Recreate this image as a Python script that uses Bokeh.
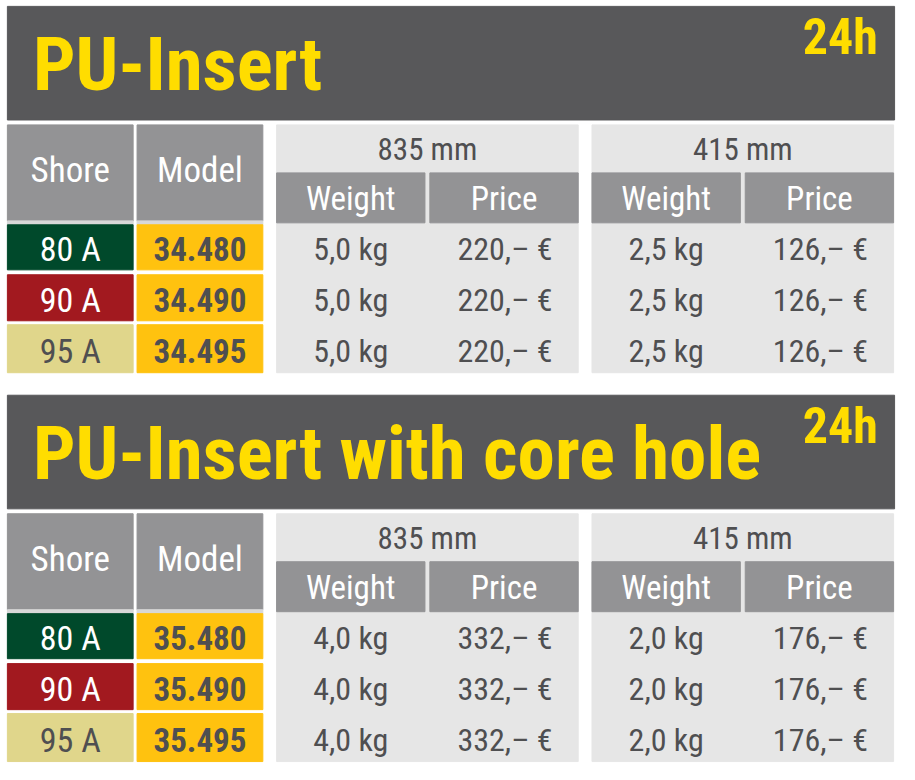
from bokeh.plotting import figure
from bokeh.models import ColumnDataSource
from bokeh.core.properties import value
from bokeh.embed import file_html
from bokeh.resources import INLINE

# table content
titles = ["PU-Insert", "PU-Insert with core hole"]
badge = "24h"
shore = ["80 A", "90 A", "95 A"]
models = [["34.480", "34.490", "34.495"],
          ["35.480", "35.490", "35.495"]]
lengths = ["835 mm", "415 mm"]
weights = [[["5,0 kg", "5,0 kg", "5,0 kg"], ["2,5 kg", "2,5 kg", "2,5 kg"]],
           [["4,0 kg", "4,0 kg", "4,0 kg"], ["2,0 kg", "2,0 kg", "2,0 kg"]]]
prices = [[["220,– €", "220,– €", "220,– €"], ["126,– €", "126,– €", "126,– €"]],
          [["332,– €", "332,– €", "332,– €"], ["176,– €", "176,– €", "176,– €"]]]

# colours
DARK = "#58585a"
YELLOW = "#ffdd00"
HEAD_GREY = "#939395"
LIGHT = "#e6e6e6"
STRIP = "#d8d8d8"
MODEL_BG = "#ffc20f"
TEXT = "#4f4f51"
shore_bg = ["#00492b", "#a2191f", "#e0d68b"]
shore_fg = ["white", "white", TEXT]

# layout (pixel space of the reference)
sec_off = [0, 397]
rows = [(229, 275), (280, 327), (331, 380)]
blocks = [(281, 588), (602, 909)]

p = figure(width=899, height=764, x_range=(0, 915), y_range=(780, 0),
           output_backend="svg", toolbar_location=None, min_border=0)
p.axis.visible = False
p.grid.visible = False
p.outline_line_color = None
p.background_fill_color = "white"
p.border_fill_color = "white"

quads = dict(left=[], right=[], top=[], bottom=[], color=[])
labels = dict(x=[], y=[], text=[], color=[], size=[], align=[], style=[])


def box(l, r, t, b, c):
    quads["left"].append(l)
    quads["right"].append(r)
    quads["top"].append(t)
    quads["bottom"].append(b)
    quads["color"].append(c)


def label(x, y, txt, c, size, align="center", style="normal"):
    labels["x"].append(x)
    labels["y"].append(y)
    labels["text"].append(txt)
    labels["color"].append(c)
    labels["size"].append(size)
    labels["align"].append(align)
    labels["style"].append(style)


for s, off in enumerate(sec_off):
    # title bar
    box(7, 910, 6 + off, 122 + off, DARK)
    label(33, 65 + off, titles[s], YELLOW, "75px", "left", "bold")
    label(893, 37 + off, badge, YELLOW, "50px", "right", "bold")

    # Shore / Model header
    for (l, r), name in zip([(7, 135), (139, 267)], ["Shore", "Model"]):
        box(l, r, 127 + off, 225 + off, HEAD_GREY)
        box(l, r, 225 + off, 229 + off, STRIP)
        label((l + r) / 2, 174 + off, name, "white", "35px")

    for i, (t, b) in enumerate(rows):
        box(7, 135, t + off, b + off, shore_bg[i])
        box(139, 267, t + off, b + off, MODEL_BG)
        label(71, (t + b) / 2 + 2 + off, shore[i], shore_fg[i], "34px")
        label(203, (t + b) / 2 + 2 + off, models[s][i], TEXT, "33px", style="bold")

    # length blocks
    for k, (l, r) in enumerate(blocks):
        mid = l + (r - l - 5) / 2
        box(l, r, 127 + off, 380 + off, LIGHT)
        box(l, mid, 176 + off, 227 + off, HEAD_GREY)
        box(mid + 5, r, 176 + off, 227 + off, HEAD_GREY)
        label((l + r) / 2, 152 + off, lengths[k], TEXT, "31px")
        label((l + mid) / 2, 202 + off, "Weight", "white", "33px")
        label((mid + 5 + r) / 2, 202 + off, "Price", "white", "33px")
        for i, (t, b) in enumerate(rows):
            label((l + mid) / 2, (t + b) / 2 + 2 + off, weights[s][k][i], TEXT, "32px")
            label((mid + 5 + r) / 2 + 1, (t + b) / 2 + 2 + off, prices[s][k][i], TEXT, "32px")

p.quad(left="left", right="right", top="top", bottom="bottom", color="color",
       source=ColumnDataSource(quads))
p.text(x="x", y="y", text="text", text_color="color", text_font_size="size",
       text_align="align", text_font_style="style", text_baseline="middle",
       text_font=value("Roboto Condensed"), source=ColumnDataSource(labels))

open("out.html", "w").write(file_html(p, INLINE))
